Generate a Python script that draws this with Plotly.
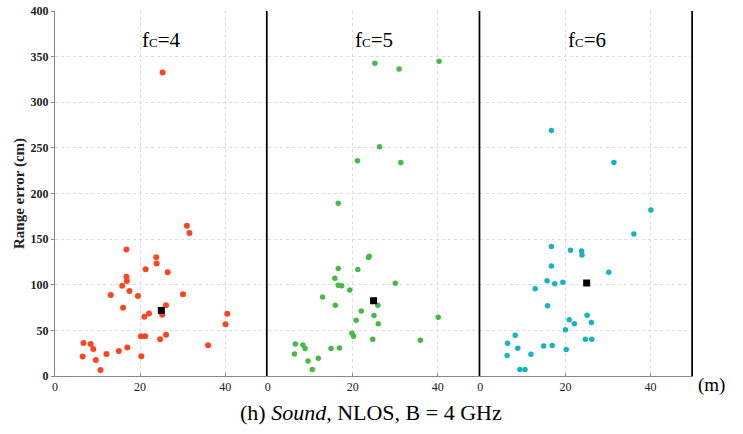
import plotly.graph_objects as go

# ---- data (x in m, y = range error in cm) ----
fc4_x = [25.3, 31.0, 31.6, 16.8, 23.8, 23.9, 21.3, 26.5, 16.8, 16.9, 15.8, 17.5, 13.1, 19.5, 30.1,
         16.0, 26.1, 25.2, 22.1, 21.0, 40.5, 40.1, 20.2, 21.2, 26.1, 24.7, 36.0, 6.7, 8.4, 9.0,
         17.0, 15.0, 12.1, 6.5, 20.3, 9.6, 10.7]
fc4_y = [332.5, 164.6, 156.6, 138.6, 130.2, 123.2, 117.0, 113.7, 108.9, 104.1, 99.0, 93.1, 88.7, 87.6, 89.5,
         74.8, 77.4, 67.1, 68.6, 64.9, 68.2, 56.8, 43.6, 43.6, 45.1, 40.3, 33.7, 36.3, 35.2, 29.7,
         31.2, 27.5, 24.2, 21.3, 21.6, 17.6, 6.6]
fc4_mean = (25.0, 71.9)

fc5_x = [25.2, 30.9, 40.3, 26.3, 21.1, 31.3, 16.6, 23.7, 23.9, 16.6, 21.2, 15.8, 16.6, 17.4, 30.0,
         19.3, 12.9, 15.9, 25.9, 22.0, 25.0, 20.8, 26.0, 40.1, 19.8, 20.2, 24.7, 35.9, 6.5, 8.3,
         8.8, 14.9, 16.9, 6.3, 11.9, 9.5, 10.5]
fc5_y = [342.7, 336.5, 344.9, 251.1, 235.8, 233.9, 189.2, 129.8, 131.2, 117.7, 116.6, 107.1, 99.4, 99.0, 101.6,
         94.2, 86.5, 77.4, 77.4, 71.1, 66.4, 61.2, 57.2, 64.5, 46.9, 43.6, 40.3, 39.2, 35.2, 34.1,
         30.1, 30.1, 30.8, 24.2, 19.4, 16.5, 7.0]
fc5_mean = (24.9, 82.5)

fc6_x = [16.7, 31.4, 40.1, 36.1, 16.7, 21.2, 23.8, 23.9, 16.7, 30.2, 15.7, 17.5, 19.4, 12.9, 15.8,
         25.1, 20.9, 22.1, 26.1, 20.0, 8.2, 24.7, 26.2, 6.4, 14.9, 16.9, 8.8, 20.2, 11.9, 6.3,
         9.3, 10.5]
fc6_y = [269.0, 234.0, 181.9, 155.5, 141.9, 137.9, 137.1, 132.7, 120.6, 113.7, 104.5, 101.2, 102.7, 95.7, 77.0,
         66.7, 61.6, 57.2, 58.7, 50.6, 44.7, 40.3, 40.3, 35.9, 33.0, 33.4, 30.4, 29.0, 23.8, 22.4,
         7.0, 7.0]
fc6_mean = (25.0, 101.9)

panel_titles = ["4", "5", "6"]
x_ticks = [0, 20, 40]
y_ticks = [0, 50, 100, 150, 200, 250, 300, 350, 400]

colors = ["#FF4422", "#45BB45", "#17B3C2"]
SERIF = "Liberation Serif"

fig = go.Figure()
series = [(fc4_x, fc4_y, fc4_mean), (fc5_x, fc5_y, fc5_mean), (fc6_x, fc6_y, fc6_mean)]
axes = ["x", "x2", "x3"]
for i, (xs, ys, mean) in enumerate(series):
    fig.add_trace(go.Scatter(x=xs, y=ys, mode="markers", xaxis=axes[i], yaxis="y",
                             marker=dict(color=colors[i], size=6 if i == 0 else 5.5,
                                         line=dict(width=0)),
                             showlegend=False, hoverinfo="x+y"))
    fig.add_trace(go.Scatter(x=[mean[0]], y=[mean[1]], mode="markers", xaxis=axes[i], yaxis="y",
                             marker=dict(color="black", size=7, symbol="square"),
                             showlegend=False))

grid = dict(showgrid=True, gridcolor="#d5dee8", griddash="dot", gridwidth=1)
xcommon = dict(range=[0, 50], tickvals=x_ticks, ticktext=[str(t) for t in x_ticks],
               showline=True, linecolor="#888888", linewidth=1, ticks="inside", ticklen=3,
               tickcolor="#888888", zeroline=False, automargin=False,
               tickfont=dict(family=SERIF, size=12, color="#222"), anchor="y", **grid)
fig.update_layout(
    width=743, height=434,
    margin=dict(l=55, r=50, t=11, b=58),
    paper_bgcolor="white", plot_bgcolor="white",
    font=dict(family=SERIF),
    xaxis=dict(domain=[0, 1/3], **xcommon),
    xaxis2=dict(domain=[1/3, 2/3], **xcommon),
    xaxis3=dict(domain=[2/3, 1], **xcommon),
    yaxis=dict(range=[0, 400], tickvals=y_ticks, ticktext=["<b>%d</b>" % v for v in y_ticks],
               showline=True, linecolor="#888888", linewidth=1, automargin=False,
               ticks="outside", ticklen=3, tickcolor="#888888", zeroline=False,
               tickfont=dict(family=SERIF, size=12, color="#222"),
               title=dict(text="<b>Range error (cm)</b>", font=dict(family=SERIF, size=15, color="#222"),
                          standoff=2),
               **grid),
)

# thick black separators at right edge of each panel
for ax in axes:
    fig.add_shape(type="line", xref=ax, yref="y", x0=50, x1=50, y0=-1, y1=400,
                  line=dict(color="black", width=3.5))

# panel titles
for i, t in enumerate(panel_titles):
    fig.add_annotation(xref=axes[i], yref="paper", x=25, y=0.92, yanchor="middle", showarrow=False,
                       text="f<span style='font-size:13px'>C</span>=" + t,
                       font=dict(family=SERIF, size=21, color="black"))

fig.add_annotation(xref="paper", yref="paper", x=1.0, y=-0.025, xanchor="left", yanchor="middle",
                   xshift=3, showarrow=False, text="(m)",
                   font=dict(family=SERIF, size=19, color="black"))
fig.add_annotation(xref="paper", yref="paper", x=0.495, y=-0.101, yanchor="middle", showarrow=False,
                   text="(h) <i>Sound</i>, NLOS, B = 4 GHz",
                   font=dict(family=SERIF, size=22, color="black"))

fig.write_html("out.html", config={"displayModeBar": False},
               post_script="document.body.style.margin='0';document.body.style.padding='0';")
